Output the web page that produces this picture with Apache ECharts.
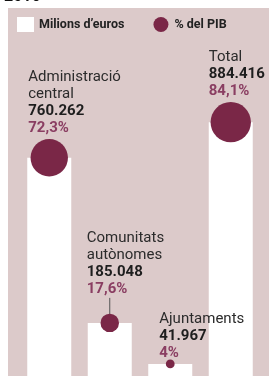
<!DOCTYPE html>
<html>
<head>
<meta charset="utf-8">
<script src="https://cdn.jsdelivr.net/npm/echarts@6/dist/echarts.min.js"></script>
<style>
  html, body { margin: 0; padding: 0; background: #fff; }
  #chart { width: 269px; height: 376px; }
</style>
</head>
<body>
<div id="chart"></div>
<script>
// data (milions d'euros, en milers -> 760.262 = 760.262 M€)
const categories = ['Administració\ncentral', 'Comunitats\nautònomes', 'Ajuntaments', 'Total'];
const values = [760.262, 185.048, 41.967, 884.416];
const valueLabels = ['760.262', '185.048', '41.967', '884.416'];
const pctValues = [72.3, 17.6, 4, 84.1];
const pctLabels = ['72,3%', '17,6%', '4%', '84,1%'];

// label offsets per bar [dx, dy] from bar top centre
const labelOffsets = [[-21, -21], [-23, -25], [-11, -2], [-22, -22]];

const FONT = 'Roboto, "Noto Sans", sans-serif';
const PANEL = '#dccaca';
const DOT = '#7a2747';

let chart = echarts.init(document.getElementById('chart'));

let barData = values.map(function (v, i) {
  return {
    value: v,
    label: {
      offset: labelOffsets[i],
      formatter: function () {
        return '{n|' + categories[i].split('\n').join('}\n{n|') + '}\n{v|' + valueLabels[i] + '}\n{p|' + pctLabels[i] + '}';
      }
    }
  };
});

let baseGraphic = [
  { type: 'rect', z: -10, shape: { x: 8, y: 8, width: 261, height: 368 }, style: { fill: PANEL } },
  { type: 'text', x: 4, y: 5, style: { text: '2016', fill: '#111', font: 'bold 16px ' + FONT, textVerticalAlign: 'bottom' } }
];

chart.setOption({
  backgroundColor: '#fff',
  animation: false,
  textStyle: { fontFamily: FONT },
  graphic: baseGraphic,
  legend: {
    left: 17,
    top: 17,
    padding: 0,
    itemWidth: 17,
    itemHeight: 15,
    itemGap: 29,
    textStyle: { fontFamily: FONT, fontWeight: 'bold', fontSize: 12.5, color: '#222' },
    data: [
      { name: "Milions d’euros", icon: 'rect' },
      { name: '% del PIB', icon: 'circle' }
    ]
  },
  grid: { left: 19, right: 8, top: 89, bottom: -4 },
  xAxis: {
    type: 'category',
    data: categories,
    show: false
  },
  yAxis: {
    type: 'value',
    min: 0,
    max: 1000,
    show: false
  },
  series: [
    {
      name: "Milions d’euros",
      type: 'bar',
      barWidth: 44,
      itemStyle: { color: '#ffffff' },
      data: barData,
      z: 2,
      label: {
        show: true,
        position: 'top',
        distance: 0,
        align: 'left',
        verticalAlign: 'bottom',
        rich: {
          n: { fontFamily: FONT, fontSize: 15, lineHeight: 17, color: '#2b2b2b' },
          v: { fontFamily: FONT, fontSize: 15, fontWeight: 'bold', lineHeight: 17, color: '#1e1e1e' },
          p: { fontFamily: FONT, fontSize: 15, fontWeight: 'bold', lineHeight: 17, color: '#8a3e62' }
        }
      }
    },
    {
      name: '% del PIB',
      type: 'scatter',
      data: values,
      symbolSize: function (v, p) { return 4.4 * Math.sqrt(pctValues[p.dataIndex]); },
      itemStyle: { color: DOT, opacity: 1 },
      z: 5
    }
  ]
});

// connector line from the Comunitats label down to its dot
let pt = chart.convertToPixel({ gridIndex: 0 }, [1, values[1]]);
chart.setOption({
  graphic: baseGraphic.concat([
    { type: 'line', z: 3, shape: { x1: pt[0], y1: pt[1] - 25, x2: pt[0], y2: pt[1] }, style: { stroke: '#555', lineWidth: 1 } }
  ])
});
</script>
</body>
</html>
